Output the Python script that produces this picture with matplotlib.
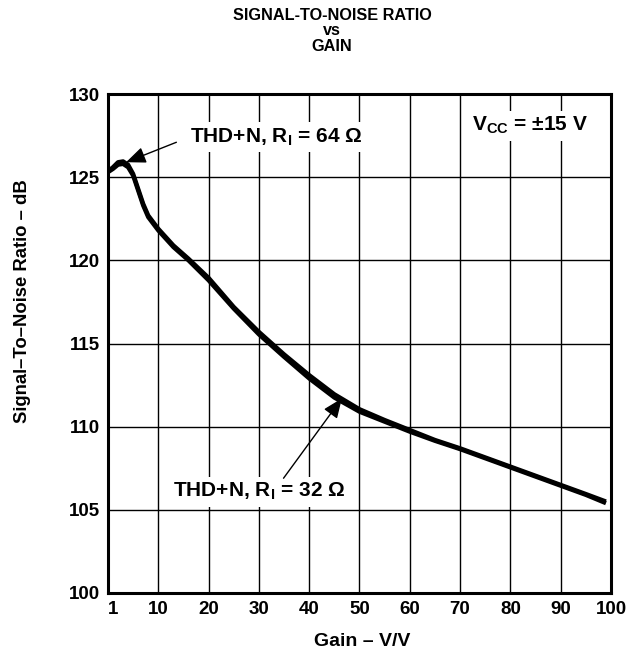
import matplotlib
matplotlib.use("Agg")
import matplotlib.pyplot as plt

plt.rcParams['font.family'] = ['Liberation Sans', 'DejaVu Sans']
plt.rcParams['font.weight'] = 'bold'
plt.rcParams['mathtext.fontset'] = 'custom'
plt.rcParams['mathtext.rm'] = 'Liberation Sans:bold'
plt.rcParams['mathtext.bf'] = 'Liberation Sans:bold'

# data
gain = [0, 1, 2, 3, 4, 5, 6, 7, 8, 10, 13, 16, 20, 25, 30, 35, 40, 45,
        50, 55, 60, 65, 70, 75, 80, 85, 90, 95, 99]
snr_64 = [125.35, 125.6, 125.9, 125.95, 125.75, 125.2, 124.3, 123.4, 122.7,
          121.9, 120.9, 120.1, 118.95, 117.2, 115.7, 114.35, 113.1, 111.95,
          111.05, 110.4, 109.8, 109.2, 108.7, 108.15, 107.6, 107.05, 106.5,
          105.95, 105.5]
snr_32 = [125.3, 125.5, 125.75, 125.8, 125.6, 125.1, 124.2, 123.3, 122.6,
          121.8, 120.8, 120.0, 118.8, 117.1, 115.55, 114.2, 112.9, 111.75,
          110.9, 110.3, 109.7, 109.15, 108.65, 108.1, 107.55, 107.0, 106.45,
          105.9, 105.4]

xticks = [1, 10, 20, 30, 40, 50, 60, 70, 80, 90, 100]
xticklabels = ['1', '10', '20', '30', '40', '50', '60', '70', '80', '90', '100']
yticks = [100, 105, 110, 115, 120, 125, 130]

fig = plt.figure(figsize=(6.34, 6.58), dpi=100)
ax = fig.add_axes([0.1703, 0.0988, 0.7934, 0.7583])

for x in range(10, 100, 10):
    ax.axvline(x, color='black', lw=1.0, zorder=1)
for y in range(105, 130, 5):
    ax.axhline(y, color='black', lw=1.0, zorder=1)

ax.plot(gain, snr_64, color='black', lw=3.1, solid_capstyle='butt', zorder=3)
ax.plot(gain, snr_32, color='black', lw=3.1, solid_capstyle='butt', zorder=3)

ax.set_xlim(0, 100)
ax.set_ylim(100, 130)
ax.set_xticks(xticks)
ax.set_xticklabels(xticklabels)
ax.set_yticks(yticks)
ax.tick_params(length=0, labelsize=13.5, pad=6)
for lab in ax.get_xticklabels() + ax.get_yticklabels():
    lab.set_fontweight('bold')
for s in ax.spines.values():
    s.set_linewidth(2.2)

fig.text(362 / 634, 1 - 642 / 658, 'Gain – V/V', ha='center', va='center',
         fontsize=14, fontweight='bold')
fig.text(23 / 634, 1 - 301 / 658, 'Signal–To–Noise Ratio – dB', ha='center',
         va='center', rotation=90, fontsize=13.3, fontweight='bold')

fig.text(0.524, 0.976, 'SIGNAL-TO-NOISE RATIO', ha='center', va='center',
         fontsize=11.7, fontweight='bold')
fig.text(0.524, 0.953, 'vs', ha='center', va='center', fontsize=11.7, fontweight='bold')
fig.text(0.524, 0.930, 'GAIN', ha='center', va='center', fontsize=11.7, fontweight='bold')

box = dict(facecolor='white', edgecolor='none', pad=3)
arrow = dict(arrowstyle='-|>,head_length=0.6,head_width=0.25', mutation_scale=20,
             lw=1.0, color='black', shrinkA=0, shrinkB=0)

ax.text(16.4, 127.4, r'THD+N, R$_\mathbf{I}$ = 64 Ω', fontsize=15, fontweight='bold',
        va='center', ha='left', bbox=box, zorder=4)
ax.annotate('', xy=(3.6, 125.9), xytext=(13.6, 127.1), arrowprops=arrow, zorder=5)

ax.text(13.0, 106.1, r'THD+N, R$_\mathbf{I}$ = 32 Ω', fontsize=15, fontweight='bold',
        va='center', ha='left', bbox=box, zorder=4)
ax.annotate('', xy=(46.5, 111.7), xytext=(34.9, 106.9), arrowprops=arrow, zorder=5)

ax.text(72.3, 128.1, r'V$_\mathbf{CC}$ = ±15 V', fontsize=15, fontweight='bold',
        va='center', ha='left', bbox=box, zorder=4)

fig.savefig('out.png', dpi=100)
